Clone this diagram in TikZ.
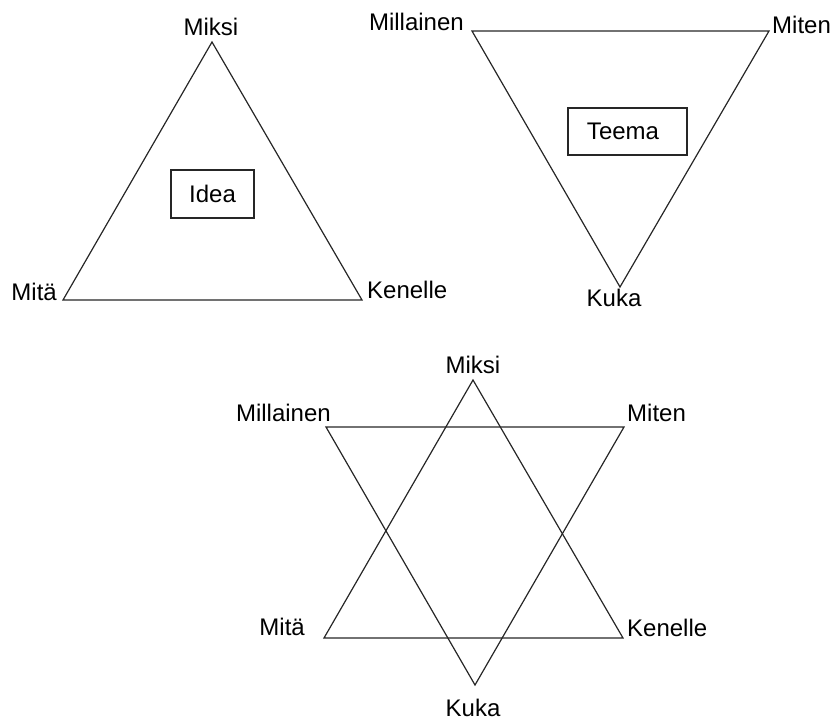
\documentclass[tikz,border=0pt]{standalone}
\usepackage{fontspec}
\setmainfont{Liberation Sans}
\begin{document}
\begin{tikzpicture}[x=1pt,y=-1pt,
  lbl/.style={inner sep=0pt,font=\fontsize{24}{28}\selectfont},
  edge/.style={draw=black!85,line width=1.2pt,line join=miter},
  boxed/.style={draw=black!85,line width=1.2pt,inner sep=0pt,font=\fontsize{24}{28}\selectfont}]
\useasboundingbox (0,0) rectangle (833,720);
% Triangle 1
\coordinate (a1) at (212,42);
\coordinate (b1) at (63,300);
\coordinate (c1) at (362,300);
\draw[edge] (a1) -- (b1) -- (c1) -- cycle;
\node[boxed,minimum width=83pt,minimum height=48pt] (idea) at (212.5,194) {Idea};
\node[lbl] (miksi1) at (211,27) {Miksi};
\node[lbl,anchor=east] (mita1) at (57,292) {Mitä};
\node[lbl,anchor=west] (kenelle1) at (367,290) {Kenelle};
% Triangle 2
\coordinate (a2) at (472,31);
\coordinate (b2) at (769,31);
\coordinate (c2) at (620,287);
\draw[edge] (a2) -- (b2) -- (c2) -- cycle;
\node[boxed,minimum width=119pt,minimum height=47pt] (teema) at (627.5,131.5) {};
\node[lbl] (teematext) at (623,131) {Teema};
\node[lbl,anchor=east] (millainen1) at (464,22) {Millainen};
\node[lbl,anchor=west] (miten1) at (772,25) {Miten};
\node[lbl] (kuka1) at (614,298) {Kuka};
% Star
\coordinate (u1) at (473,380);
\coordinate (u2) at (324,638);
\coordinate (u3) at (623,638);
\coordinate (d1) at (326,427);
\coordinate (d2) at (624,427);
\coordinate (d3) at (475,685);
\draw[edge] (u1) -- (u2) -- (u3) -- cycle;
\draw[edge] (d1) -- (d2) -- (d3) -- cycle;
\node[lbl] (miksi2) at (473,365) {Miksi};
\node[lbl,anchor=east] (millainen2) at (331,413) {Millainen};
\node[lbl,anchor=west] (miten2) at (627,413) {Miten};
\node[lbl,anchor=east] (mita2) at (305,627) {Mitä};
\node[lbl,anchor=west] (kenelle2) at (627,628) {Kenelle};
\node[lbl] (kuka2) at (473,708) {Kuka};
\end{tikzpicture}
\end{document}
